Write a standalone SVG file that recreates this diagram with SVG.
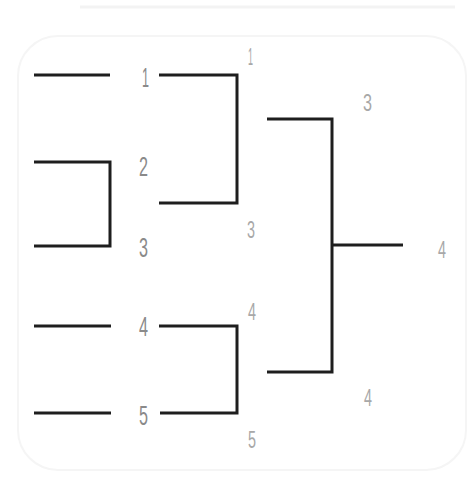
<svg xmlns="http://www.w3.org/2000/svg" width="472" height="482" viewBox="0 0 472 482">
<style>
.bg{fill:#ffffff}
.frame{fill:none;stroke:#f5f5f5;stroke-width:2}
.scan{stroke:#f3f3f3;stroke-width:3}
.br{fill:none;stroke:#1e1e1e;stroke-width:3;stroke-linecap:butt;stroke-linejoin:miter}
.lb{font-family:"Liberation Sans","DejaVu Sans",sans-serif;font-size:27px;fill:#8a8a8a;font-weight:normal}
.sm{font-family:"Liberation Sans","DejaVu Sans",sans-serif;font-size:24px;fill:#a8a8a8}
</style>
<rect class="bg" x="0" y="0" width="472" height="482"/>
<rect class="frame" x="18" y="36" width="448" height="434" rx="40"/>
<line class="scan" x1="80" y1="7" x2="455" y2="7"/>
<g id="connectors">
<path id="e1" class="br" d="M34 75 H110"/>
<path id="e23" class="br" d="M34 162 H110 V246 H34"/>
<path id="e4" class="br" d="M34 326 H111"/>
<path id="e5" class="br" d="M34 413 H111"/>
<path id="e13" class="br" d="M159 75 H237 V203 H159"/>
<path id="e45" class="br" d="M159 326 H237 V413 H160"/>
<path id="e34" class="br" d="M267 119 H332 V372 H267"/>
<path id="efinal" class="br" d="M332 245 H403"/>
</g>
<g id="n-r1-1"><text class="lb" x="142" y="87" textLength="7" lengthAdjust="spacingAndGlyphs">1</text></g>
<g id="n-r1-2"><text class="lb" x="139" y="176" textLength="9" lengthAdjust="spacingAndGlyphs">2</text></g>
<g id="n-r1-3"><text class="lb" x="139" y="257" textLength="9" lengthAdjust="spacingAndGlyphs">3</text></g>
<g id="n-r1-4"><text class="lb" x="139" y="336" textLength="9" lengthAdjust="spacingAndGlyphs">4</text></g>
<g id="n-r1-5"><text class="lb" x="139" y="425" textLength="9" lengthAdjust="spacingAndGlyphs">5</text></g>
<g id="n-r2-1"><text class="sm" x="248" y="65" textLength="5" lengthAdjust="spacingAndGlyphs">1</text></g>
<g id="n-r2-3"><text class="sm" x="247" y="238" textLength="8" lengthAdjust="spacingAndGlyphs">3</text></g>
<g id="n-r2-4"><text class="sm" x="248" y="320" textLength="8" lengthAdjust="spacingAndGlyphs">4</text></g>
<g id="n-r2-5"><text class="sm" x="248" y="448" textLength="8" lengthAdjust="spacingAndGlyphs">5</text></g>
<g id="n-r3-3"><text class="sm" x="363" y="111" textLength="9" lengthAdjust="spacingAndGlyphs">3</text></g>
<g id="n-r3-4"><text class="sm" x="364" y="406" textLength="8" lengthAdjust="spacingAndGlyphs">4</text></g>
<g id="n-final"><text class="sm" x="438" y="258" textLength="8" lengthAdjust="spacingAndGlyphs">4</text></g>
</svg>
